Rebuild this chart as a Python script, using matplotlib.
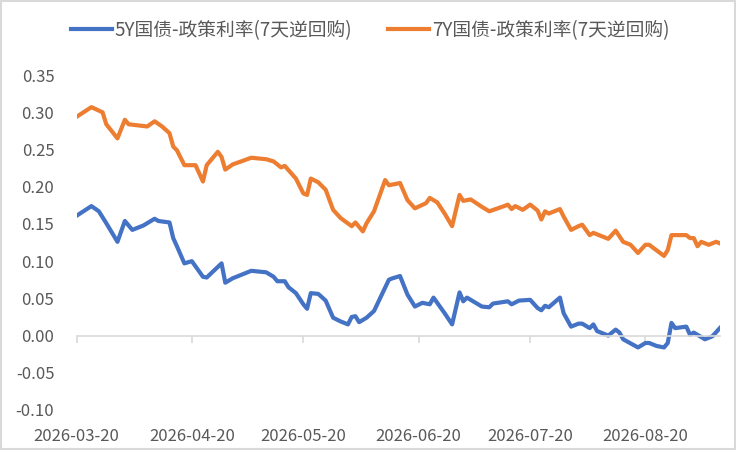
import matplotlib
matplotlib.use("Agg")
import matplotlib.pyplot as plt
import matplotlib.dates as mdates
from matplotlib.patches import Rectangle
import pandas as pd

plt.rcParams['font.family'] = ['Noto Sans CJK SC', 'DejaVu Sans']
plt.rcParams['axes.unicode_minus'] = False

# 5Y国债-政策利率
dates_5y = ["2026-03-20", "2026-03-24", "2026-03-26", "2026-03-28", "2026-03-31",
            "2026-04-02", "2026-04-04", "2026-04-07", "2026-04-10", "2026-04-11",
            "2026-04-14", "2026-04-15", "2026-04-16", "2026-04-18", "2026-04-20",
            "2026-04-23", "2026-04-24", "2026-04-28", "2026-04-29", "2026-05-01",
            "2026-05-06", "2026-05-10", "2026-05-12", "2026-05-13", "2026-05-15",
            "2026-05-16", "2026-05-18", "2026-05-20", "2026-05-21", "2026-05-22",
            "2026-05-24", "2026-05-26", "2026-05-28", "2026-05-30", "2026-06-01",
            "2026-06-02", "2026-06-03", "2026-06-04", "2026-06-06", "2026-06-08",
            "2026-06-12", "2026-06-13", "2026-06-15", "2026-06-17", "2026-06-19",
            "2026-06-21", "2026-06-23", "2026-06-24", "2026-06-27", "2026-06-29",
            "2026-07-01", "2026-07-02", "2026-07-03", "2026-07-07", "2026-07-09",
            "2026-07-10", "2026-07-14", "2026-07-15", "2026-07-17", "2026-07-20",
            "2026-07-22", "2026-07-23", "2026-07-24", "2026-07-25", "2026-07-28",
            "2026-07-29", "2026-07-31", "2026-08-02", "2026-08-03", "2026-08-05",
            "2026-08-06", "2026-08-07", "2026-08-10", "2026-08-12", "2026-08-13",
            "2026-08-14", "2026-08-18", "2026-08-20", "2026-08-21", "2026-08-23",
            "2026-08-25", "2026-08-26", "2026-08-27", "2026-08-28", "2026-08-31",
            "2026-09-01", "2026-09-02", "2026-09-04", "2026-09-05", "2026-09-07",
            "2026-09-09"]
spread_5y = [0.161, 0.174, 0.167, 0.151, 0.126,
             0.154, 0.142, 0.148, 0.157, 0.154,
             0.152, 0.131, 0.120, 0.097, 0.100,
             0.079, 0.078, 0.097, 0.071, 0.077,
             0.087, 0.085, 0.079, 0.073, 0.073,
             0.065, 0.057, 0.042, 0.036, 0.057,
             0.056, 0.047, 0.024, 0.019, 0.015,
             0.025, 0.026, 0.018, 0.024, 0.033,
             0.075, 0.077, 0.080, 0.055, 0.039,
             0.044, 0.042, 0.051, 0.030, 0.015,
             0.058, 0.046, 0.051, 0.039, 0.038,
             0.043, 0.046, 0.042, 0.047, 0.048,
             0.037, 0.034, 0.040, 0.038, 0.051,
             0.030, 0.012, 0.016, 0.016, 0.010,
             0.015, 0.006, 0.000, 0.008, 0.004,
             -0.005, -0.016, -0.010, -0.010, -0.014,
             -0.016, -0.010, 0.017, 0.010, 0.012,
             0.001, 0.004, -0.002, -0.005, -0.001,
             0.010]

# 7Y国债-政策利率
dates_7y = ["2026-03-20", "2026-03-24", "2026-03-27", "2026-03-28", "2026-03-31",
            "2026-04-02", "2026-04-03", "2026-04-08", "2026-04-10", "2026-04-12",
            "2026-04-14", "2026-04-15", "2026-04-16", "2026-04-18", "2026-04-21",
            "2026-04-23", "2026-04-24", "2026-04-27", "2026-04-28", "2026-04-29",
            "2026-05-01", "2026-05-06", "2026-05-10", "2026-05-12", "2026-05-14",
            "2026-05-15", "2026-05-18", "2026-05-20", "2026-05-21", "2026-05-22",
            "2026-05-24", "2026-05-26", "2026-05-28", "2026-05-30", "2026-06-02",
            "2026-06-03", "2026-06-05", "2026-06-06", "2026-06-08", "2026-06-11",
            "2026-06-12", "2026-06-15", "2026-06-17", "2026-06-19", "2026-06-22",
            "2026-06-23", "2026-06-25", "2026-06-27", "2026-06-29", "2026-07-01",
            "2026-07-02", "2026-07-04", "2026-07-07", "2026-07-09", "2026-07-13",
            "2026-07-14", "2026-07-15", "2026-07-16", "2026-07-18", "2026-07-20",
            "2026-07-22", "2026-07-23", "2026-07-24", "2026-07-25", "2026-07-28",
            "2026-07-29", "2026-07-31", "2026-08-02", "2026-08-03", "2026-08-05",
            "2026-08-06", "2026-08-10", "2026-08-12", "2026-08-14", "2026-08-16",
            "2026-08-18", "2026-08-20", "2026-08-21", "2026-08-25", "2026-08-26",
            "2026-08-27", "2026-08-31", "2026-09-01", "2026-09-02", "2026-09-03",
            "2026-09-04", "2026-09-06", "2026-09-08", "2026-09-09"]
spread_7y = [0.294, 0.307, 0.300, 0.284, 0.265,
             0.290, 0.284, 0.281, 0.288, 0.281,
             0.272, 0.254, 0.249, 0.229, 0.229,
             0.207, 0.229, 0.247, 0.240, 0.223,
             0.230, 0.239, 0.237, 0.234, 0.226,
             0.228, 0.211, 0.191, 0.189, 0.211,
             0.206, 0.196, 0.169, 0.158, 0.147,
             0.152, 0.140, 0.151, 0.167, 0.209,
             0.202, 0.205, 0.182, 0.171, 0.178,
             0.185, 0.179, 0.164, 0.147, 0.189,
             0.181, 0.183, 0.173, 0.167, 0.174,
             0.176, 0.170, 0.174, 0.169, 0.176,
             0.168, 0.156, 0.167, 0.164, 0.170,
             0.160, 0.142, 0.147, 0.149, 0.135,
             0.138, 0.130, 0.141, 0.126, 0.122,
             0.111, 0.122, 0.122, 0.107, 0.115,
             0.135, 0.135, 0.131, 0.131, 0.120,
             0.126, 0.122, 0.126, 0.124]

label_5y = "5Y国债-政策利率(7天逆回购)"
label_7y = "7Y国债-政策利率(7天逆回购)"
tick_dates = ["2026-03-20", "2026-04-20", "2026-05-20", "2026-06-20", "2026-07-20", "2026-08-20"]
y_ticks = [-0.10, -0.05, 0.00, 0.05, 0.10, 0.15, 0.20, 0.25, 0.30, 0.35]

text_color = "#595959"
axis_color = "#D9D9D9"

d5 = pd.to_datetime(dates_5y)
d7 = pd.to_datetime(dates_7y)
xt = pd.to_datetime(tick_dates)

fig = plt.figure(figsize=(7.36, 4.5), dpi=100)
ax = fig.add_axes([0.104, 0.089, 0.874, 0.744])

ax.plot(d5, spread_5y, color="#4472C4", lw=3.0, label=label_5y, solid_joinstyle="round")
ax.plot(d7, spread_7y, color="#ED7D31", lw=3.0, label=label_7y, solid_joinstyle="round")

ax.set_xlim(d5.min(), d5.max())
ax.set_ylim(-0.10, 0.35)
ax.set_yticks(y_ticks)
ax.set_yticklabels([f"{v:.2f}" for v in y_ticks])

for s in ["top", "right", "left"]:
    ax.spines[s].set_visible(False)
ax.spines["bottom"].set_position(("data", 0))
ax.spines["bottom"].set_color(axis_color)
ax.spines["bottom"].set_linewidth(1.2)

ax.set_xticks(xt)
ax.tick_params(axis="x", direction="out", length=5, width=1.2, color=axis_color,
               labelbottom=False)
ax.tick_params(axis="y", length=0, pad=16, labelsize=12, labelcolor=text_color)

# date labels sit at the bottom of the plot area
sec = ax.secondary_xaxis(0)
sec.set_xticks(xt)
sec.xaxis.set_major_formatter(mdates.DateFormatter("%Y-%m-%d"))
sec.spines["bottom"].set_visible(False)
sec.tick_params(axis="x", length=0, pad=13, labelsize=12, labelcolor=text_color)

fig.legend(loc="center", bbox_to_anchor=(0.503, 0.933), ncol=2, frameon=False,
           fontsize=13.5, handlelength=2.2, handletextpad=0.15, columnspacing=1.9,
           labelcolor=text_color)

fig.patches.append(Rectangle((0.002, 0.002), 0.996, 0.996, transform=fig.transFigure,
                             fill=False, edgecolor=axis_color, lw=1.5))

fig.savefig("out.png", dpi=100)
